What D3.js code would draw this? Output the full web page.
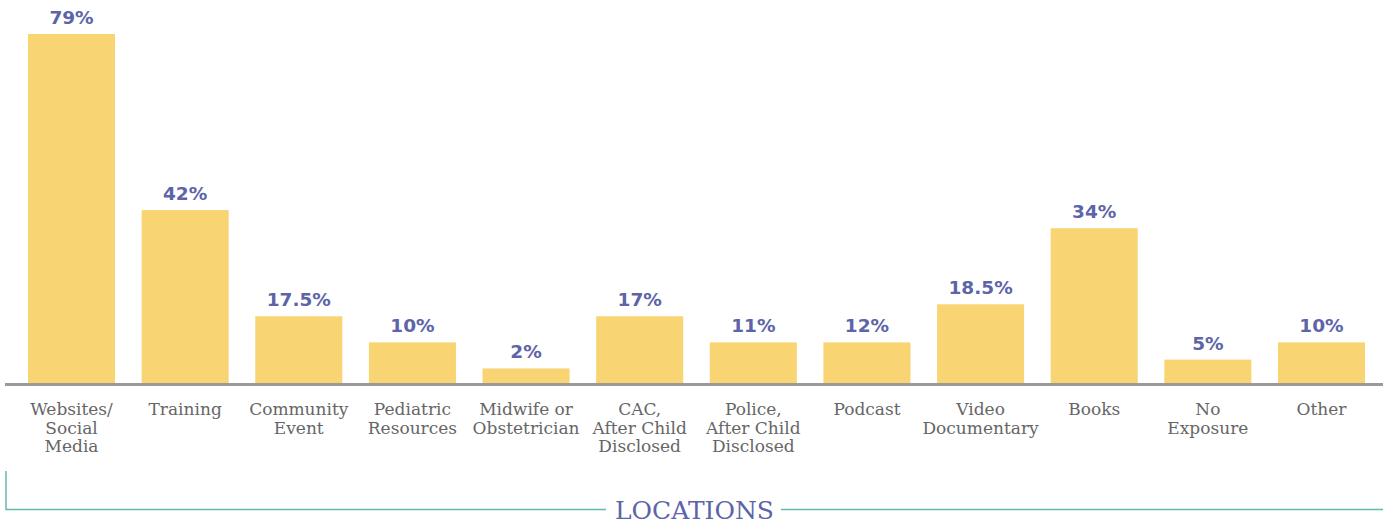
<!DOCTYPE html>
<html>
<head>
<meta charset="utf-8">
<script src="https://cdn.jsdelivr.net/npm/d3@7"></script>
<style>
  body { margin: 0; background: #fff; }
  svg { display: block; }
</style>
</head>
<body>
<div id="vis"></div>
<script>
// categories, split into the lines they are printed on
var categories = [
  ["Websites/", "Social", "Media"],
  ["Training"],
  ["Community", "Event"],
  ["Pediatric", "Resources"],
  ["Midwife or", "Obstetrician"],
  ["CAC,", "After Child", "Disclosed"],
  ["Police,", "After Child", "Disclosed"],
  ["Podcast"],
  ["Video", "Documentary"],
  ["Books"],
  ["No", "Exposure"],
  ["Other"]
];
// printed percentages
var valueLabels = ["79%", "42%", "17.5%", "10%", "2%", "17%", "11%", "12%", "18.5%", "34%", "5%", "10%"];
// bar heights as drawn (same % units)
var barValues = [79, 39.2, 15.2, 9.3, 3.4, 15.2, 9.3, 9.3, 17.9, 35.1, 5.4, 9.3];
var axisTitle = "LOCATIONS";

var width = 1383, height = 524;
var baseY = 383.5;

var svg = d3.select("#vis").append("svg")
  .attr("width", width)
  .attr("height", height);

var x = d3.scaleBand()
  .domain(d3.range(categories.length))
  .range([14.7, 1378.3])
  .paddingInner(0.234)
  .paddingOuter(0.117);

var y = d3.scaleLinear()
  .domain([0, 79])
  .range([baseY, 34]);

// bars
svg.selectAll(".bar")
  .data(barValues)
  .enter().append("rect")
    .attr("class", "bar")
    .attr("x", function(d, i) { return x(i); })
    .attr("y", function(d) { return y(d); })
    .attr("width", x.bandwidth())
    .attr("height", function(d) { return baseY - y(d); })
    .style("fill", "#f9d472");

// baseline
svg.append("line")
  .attr("x1", 5)
  .attr("x2", width)
  .attr("y1", baseY + 1)
  .attr("y2", baseY + 1)
  .style("stroke", "#9a9a9a")
  .style("stroke-width", 3);

// value labels
svg.selectAll(".val")
  .data(barValues)
  .enter().append("text")
    .attr("class", "val")
    .attr("x", function(d, i) { return x(i) + x.bandwidth() / 2; })
    .attr("y", function(d) { return y(d) - 10; })
    .attr("text-anchor", "middle")
    .style("font-family", "'DejaVu Sans', sans-serif")
    .style("font-weight", "bold")
    .style("font-size", "18.5px")
    .style("fill", "#5d64a8")
    .text(function(d, i) { return valueLabels[i]; });

// category labels
var cat = svg.selectAll(".cat")
  .data(categories)
  .enter().append("text")
    .attr("class", "cat")
    .attr("x", function(d, i) { return x(i) + x.bandwidth() / 2; })
    .attr("y", 415)
    .attr("text-anchor", "middle")
    .style("font-family", "'DejaVu Serif', serif")
    .style("font-size", "17px")
    .style("fill", "#666666");

cat.selectAll("tspan")
  .data(function(d) { return d; })
  .enter().append("tspan")
    .attr("x", function() { return d3.select(this.parentNode).attr("x"); })
    .attr("dy", function(d, j) { return j === 0 ? 0 : 18.5; })
    .text(function(d) { return d; });

// bracket + title
var lineY = 509.5;
svg.append("path")
  .attr("d", "M6,471V" + lineY + "H606")
  .style("fill", "none")
  .style("stroke", "#62b9b0")
  .style("stroke-width", 1.5);

svg.append("line")
  .attr("x1", 781)
  .attr("x2", width)
  .attr("y1", lineY)
  .attr("y2", lineY)
  .style("stroke", "#62b9b0")
  .style("stroke-width", 1.5);

svg.append("text")
  .attr("x", 694.5)
  .attr("y", 519)
  .attr("text-anchor", "middle")
  .style("font-family", "'DejaVu Serif', serif")
  .style("font-size", "25px")
  .style("fill", "#5d64a8")
  .text(axisTitle);
</script>
</body>
</html>
